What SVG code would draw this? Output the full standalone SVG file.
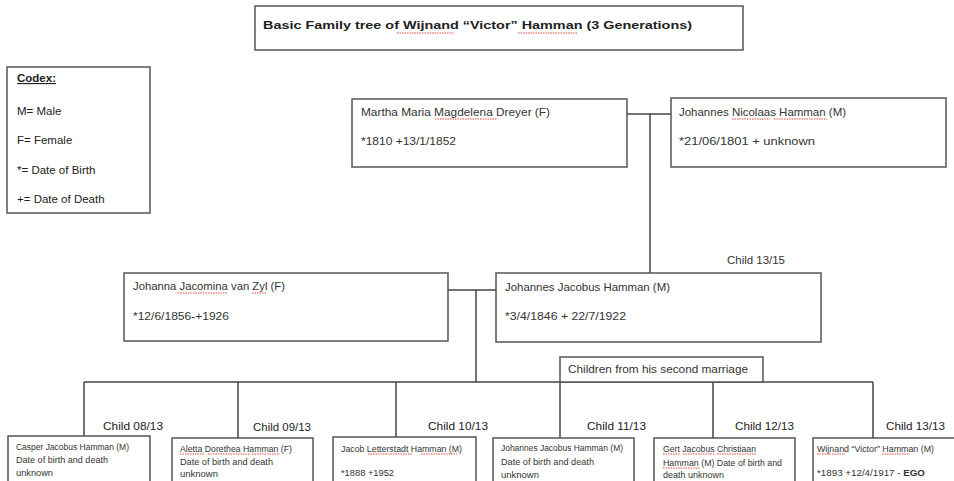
<svg xmlns="http://www.w3.org/2000/svg" width="954" height="481" viewBox="0 0 954 481">
<style>
.box{fill:#fff;stroke:#555;stroke-width:1.5}
.ln{fill:none;stroke:#444;stroke-width:1.5}
.t{font-family:"Liberation Sans",Arial,sans-serif;font-size:11px;fill:#333}
.s{font-family:"Liberation Sans",Arial,sans-serif;font-size:8.5px;fill:#333}
.c{font-family:"Liberation Sans",Arial,sans-serif;font-size:11.5px;fill:#222}
.b{font-weight:bold}
.sq{fill:none;stroke:#d33;stroke-width:0.9;stroke-dasharray:1.5 1}
</style>
<rect width="954" height="481" fill="#fff"/>
<g id="title">
<rect class="box" x="255" y="6" width="488" height="44"/>
<text class="c b" x="263" y="29" font-size="15" textLength="429" lengthAdjust="spacingAndGlyphs" fill="#111">Basic Family tree of Wijnand “Victor” Hamman (3 Generations)</text>
<path class="sq" d="M397 33H454M518 33H578"/>
</g>
<g id="codex">
<rect class="box" x="7" y="67" width="143" height="146"/>
<text class="c b" x="17" y="82" text-decoration="underline">Codex:</text>
<text class="c" x="17" y="115">M= Male</text>
<text class="c" x="17" y="144">F= Female</text>
<text class="c" x="17" y="174">*= Date of Birth</text>
<text class="c" x="17" y="203">+= Date of Death</text>
</g>
<g id="connectors">
<path class="ln" d="M627 114H671M650 114V273"/>
<path class="ln" d="M448 290H496M476 290V382"/>
<path class="ln" d="M84 382H873"/>
<path class="ln" d="M84 382V436M238 382V438M396 382V437M560 382V438M713 382V438M873 382V438"/>
</g>
<g id="martha">
<rect class="box" x="352" y="99" width="275" height="68"/>
<text class="t" x="361" y="116" textLength="189" lengthAdjust="spacingAndGlyphs">Martha Maria Magdelena Dreyer (F)</text>
<text class="t" x="361" y="145" textLength="95" lengthAdjust="spacingAndGlyphs">*1810 +13/1/1852</text>
<path class="sq" d="M435 119H497"/>
</g>
<g id="johannes-nicolaas">
<rect class="box" x="671" y="98" width="275" height="69"/>
<text class="t" x="679" y="116" textLength="167" lengthAdjust="spacingAndGlyphs">Johannes Nicolaas Hamman (M)</text>
<text class="t" x="679" y="145" textLength="136" lengthAdjust="spacingAndGlyphs">*21/06/1801 + unknown</text>
<path class="sq" d="M732 119H770M774 119H827"/>
</g>
<g id="johanna">
<rect class="box" x="124" y="273" width="324" height="68"/>
<text class="t" x="133" y="290" textLength="152" lengthAdjust="spacingAndGlyphs">Johanna Jacomina van Zyl (F)</text>
<text class="t" x="133" y="320" textLength="96" lengthAdjust="spacingAndGlyphs">*12/6/1856-+1926</text>
<path class="sq" d="M178 293H227M252 293H266"/>
</g>
<g id="johannes-jacobus">
<rect class="box" x="496" y="273" width="325" height="69"/>
<text class="t" x="505" y="291" textLength="165" lengthAdjust="spacingAndGlyphs">Johannes Jacobus Hamman (M)</text>
<text class="t" x="505" y="320" textLength="121" lengthAdjust="spacingAndGlyphs">*3/4/1846 + 22/7/1922</text>
<text class="t" x="727" y="264" textLength="58" lengthAdjust="spacingAndGlyphs">Child 13/15</text>
</g>
<g id="second-marriage">
<rect class="box" x="560" y="357" width="203" height="25"/>
<text class="t" x="568" y="373" textLength="180" lengthAdjust="spacingAndGlyphs">Children from his second marriage</text>
</g>
<g id="casper">
<rect class="box" x="8" y="436" width="142" height="60"/>
<text class="c" x="103" y="430" textLength="60" lengthAdjust="spacingAndGlyphs">Child 08/13</text>
<text class="s" x="16" y="450" textLength="113" lengthAdjust="spacingAndGlyphs">Casper Jacobus Hamman (M)</text>
<text class="s" x="16" y="463" textLength="92" lengthAdjust="spacingAndGlyphs">Date of birth and death</text>
<text class="s" x="16" y="476" textLength="37" lengthAdjust="spacingAndGlyphs">unknown</text>
</g>
<g id="aletta">
<rect class="box" x="172" y="438" width="141" height="60"/>
<text class="c" x="253" y="431" textLength="58" lengthAdjust="spacingAndGlyphs">Child 09/13</text>
<text class="s" x="180" y="452" textLength="112" lengthAdjust="spacingAndGlyphs">Aletta Dorethea Hamman (F)</text>
<text class="s" x="180" y="465" textLength="93" lengthAdjust="spacingAndGlyphs">Date of birth and death</text>
<text class="s" x="180" y="477" textLength="38" lengthAdjust="spacingAndGlyphs">unknown</text>
<path class="sq" d="M180 454H205M208 454H250M252 454H280"/>
</g>
<g id="jacob">
<rect class="box" x="333" y="437" width="143" height="60"/>
<text class="c" x="428" y="430" textLength="60" lengthAdjust="spacingAndGlyphs">Child 10/13</text>
<text class="s" x="341" y="452" textLength="121" lengthAdjust="spacingAndGlyphs">Jacob Letterstadt Hamman (M)</text>
<text class="s" x="341" y="476" textLength="53" lengthAdjust="spacingAndGlyphs">*1888 +1952</text>
<path class="sq" d="M368 454H413M421 454H457"/>
</g>
<g id="johannes-child">
<rect class="box" x="493" y="438" width="141" height="60"/>
<text class="c" x="587" y="430" textLength="59" lengthAdjust="spacingAndGlyphs">Child 11/13</text>
<text class="s" x="501" y="451" textLength="122" lengthAdjust="spacingAndGlyphs">Johannes Jacobus Hamman (M)</text>
<text class="s" x="501" y="465" textLength="93" lengthAdjust="spacingAndGlyphs">Date of birth and death</text>
<text class="s" x="501" y="478" textLength="38" lengthAdjust="spacingAndGlyphs">unknown</text>
</g>
<g id="gert">
<rect class="box" x="654" y="438" width="141" height="60"/>
<text class="c" x="735" y="430" textLength="59" lengthAdjust="spacingAndGlyphs">Child 12/13</text>
<text class="s" x="663" y="452" textLength="93" lengthAdjust="spacingAndGlyphs">Gert Jacobus Christiaan</text>
<text class="s" x="663" y="466" textLength="119" lengthAdjust="spacingAndGlyphs">Hamman (M) Date of birth and</text>
<text class="s" x="663" y="478" textLength="61" lengthAdjust="spacingAndGlyphs">death unknown</text>
<path class="sq" d="M663 454H680M683 454H714M717 454H756M663 468H700"/>
</g>
<g id="wijnand">
<rect class="box" x="813" y="438" width="150" height="60"/>
<text class="c" x="886" y="430" textLength="59" lengthAdjust="spacingAndGlyphs">Child 13/13</text>
<text class="s" x="817" y="452" textLength="117" lengthAdjust="spacingAndGlyphs">Wijnand “Victor” Hamman (M)</text>
<text class="s" x="817" y="476" textLength="108" lengthAdjust="spacingAndGlyphs">*1893 +12/4/1917 - <tspan class="b">EGO</tspan></text>
<path class="sq" d="M817 454H845M882 454H910"/>
</g>
</svg>
